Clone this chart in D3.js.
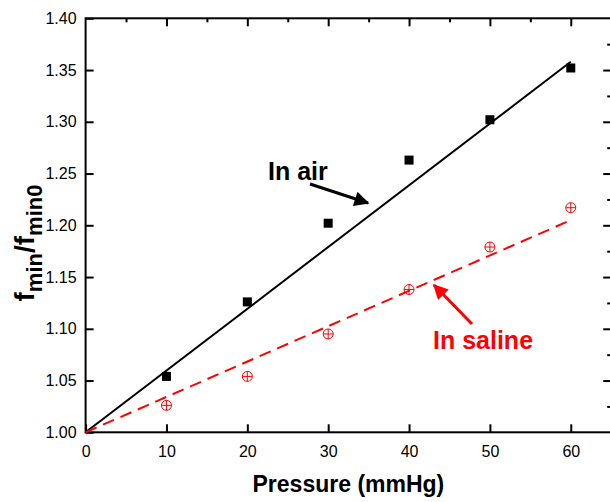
<!DOCTYPE html>
<html>
<head>
<meta charset="utf-8">
<script src="https://cdn.jsdelivr.net/npm/d3@7"></script>
<style>
  body { margin: 0; background: #fff; }
  svg { display: block; }
</style>
</head>
<body>
<div id="chart"></div>
<script>
// data
const pressure = [10, 20, 30, 40, 50, 60];
const inAir = [1.054, 1.126, 1.202, 1.263, 1.302, 1.352];
const inSaline = [1.026, 1.054, 1.095, 1.138, 1.179, 1.217];
const fitX = [0, 60];
const airFit = [1.0, 1.358];
const salineFit = [1.0, 1.205];
const xTicks = [0, 10, 20, 30, 40, 50, 60];
const yTicks = [1.00, 1.05, 1.10, 1.15, 1.20, 1.25, 1.30, 1.35, 1.40];

const W = 610, H = 502;
const margin = {top: 18.3, right: -1.2, bottom: 69.7, left: 85.6},
    width = W - margin.left - margin.right,
    height = H - margin.top - margin.bottom;

const svg = d3.select("#chart")
  .append("svg")
    .attr("width", W)
    .attr("height", H)
    .style("font-family", "Arial, 'Liberation Sans', sans-serif");

const g = svg.append("g")
    .attr("transform", `translate(${margin.left},${margin.top})`);

const x = d3.scaleLinear().domain([0, 65]).range([0, width]);
const y = d3.scaleLinear().domain([1.0, 1.4]).range([height, 0]);

// minor ticks on top / right
const xMinor = d3.range(5, 65, 5).filter(d => d % 10 !== 0);
const yMinor = d3.range(0, 16).map(i => 1.025 + i * 0.05).filter(d => d < 1.4);

function styleAxis(sel) {
  sel.selectAll(".domain").remove();
  sel.selectAll(".tick line").attr("stroke", "#000").attr("stroke-width", 2);
  sel.selectAll("text").style("font-size", "16px").attr("fill", "#000");
}

// bottom
g.append("g")
  .attr("transform", `translate(0,${height})`)
  .call(d3.axisBottom(x).tickValues(xTicks).tickSize(-8).tickPadding(13).tickFormat(d3.format("d")))
  .call(styleAxis);

// left
g.append("g")
  .call(d3.axisLeft(y).tickValues(yTicks).tickSize(-8).tickPadding(9).tickFormat(d3.format(".2f")))
  .call(styleAxis);

// top: majors + minors, no labels
g.append("g")
  .call(d3.axisTop(x).tickValues(xTicks.slice(1)).tickSize(-8).tickFormat(""))
  .call(styleAxis);
g.append("g")
  .call(d3.axisTop(x).tickValues(xMinor).tickSize(-4).tickFormat(""))
  .call(styleAxis);

// right
g.append("g")
  .attr("transform", `translate(${width},0)`)
  .call(d3.axisRight(y).tickValues(yTicks.slice(1, -1)).tickSize(-8).tickFormat(""))
  .call(styleAxis);
g.append("g")
  .attr("transform", `translate(${width},0)`)
  .call(d3.axisRight(y).tickValues(yMinor).tickSize(-4).tickFormat(""))
  .call(styleAxis);

// frame
g.append("rect")
  .attr("x", 0).attr("y", 0)
  .attr("width", width).attr("height", height)
  .attr("fill", "none")
  .attr("stroke", "#000")
  .attr("stroke-width", 2);

// fit lines
const line = d3.line().x(d => x(d[0])).y(d => y(d[1]));

g.append("path")
  .datum(fitX.map((d, i) => [d, airFit[i]]))
  .attr("d", line)
  .attr("fill", "none")
  .attr("stroke", "#000")
  .attr("stroke-width", 2);

g.append("path")
  .datum(fitX.map((d, i) => [d, salineFit[i]]))
  .attr("d", line)
  .attr("fill", "none")
  .attr("stroke", "#ff0000")
  .attr("stroke-width", 2)
  .attr("stroke-dasharray", "12,7");

// in air squares
const sq = 9;
g.selectAll(".air")
  .data(pressure)
  .join("rect")
    .attr("class", "air")
    .attr("x", (d, i) => x(d) - sq / 2)
    .attr("y", (d, i) => y(inAir[i]) - sq / 2)
    .attr("width", sq)
    .attr("height", sq)
    .attr("fill", "#000");

// in saline crossed circles
const r = 5;
const sal = g.selectAll(".sal")
  .data(pressure)
  .join("g")
    .attr("class", "sal")
    .attr("transform", (d, i) => `translate(${x(d)},${y(inSaline[i])})`);
sal.append("circle")
  .attr("r", r)
  .attr("fill", "none")
  .attr("stroke", "#ff0000")
  .attr("stroke-width", 1);
sal.append("path")
  .attr("d", `M${-r},0H${r}M0,${-r}V${r}`)
  .attr("stroke", "#ff0000")
  .attr("stroke-width", 1);

// annotations
const defs = svg.append("defs");
[["headBlack", "#000"], ["headRed", "#ff0000"]].forEach(([id, c]) => {
  defs.append("marker")
    .attr("id", id)
    .attr("viewBox", "0 0 10 10")
    .attr("refX", 9).attr("refY", 5)
    .attr("markerWidth", 6).attr("markerHeight", 5)
    .attr("markerUnits", "strokeWidth")
    .attr("orient", "auto")
    .append("path")
      .attr("d", "M0,0L10,5L0,10Z")
      .attr("fill", c);
});

svg.append("text")
  .attr("x", 268).attr("y", 180)
  .style("font-size", "25px").style("font-weight", "bold")
  .attr("fill", "#000")
  .text("In air");

svg.append("line")
  .attr("x1", 310).attr("y1", 184)
  .attr("x2", 368).attr("y2", 203)
  .attr("stroke", "#000").attr("stroke-width", 3)
  .attr("marker-end", "url(#headBlack)");

svg.append("text")
  .attr("x", 433).attr("y", 349)
  .style("font-size", "25px").style("font-weight", "bold")
  .attr("fill", "#ff0000")
  .text("In saline");

svg.append("line")
  .attr("x1", 472).attr("y1", 324)
  .attr("x2", 434).attr("y2", 285)
  .attr("stroke", "#ff0000").attr("stroke-width", 3)
  .attr("marker-end", "url(#headRed)");

// axis titles
svg.append("text")
  .attr("x", 85.6 + (611.2 - 85.6) / 2).attr("y", 492)
  .attr("text-anchor", "middle")
  .style("font-size", "23px").style("font-weight", "bold")
  .text("Pressure (mmHg)");

const yTitle = svg.append("text")
  .attr("transform", "translate(34,243) rotate(-90)")
  .attr("text-anchor", "middle")
  .style("font-size", "28px").style("font-weight", "bold");
yTitle.append("tspan").text("f");
yTitle.append("tspan").attr("dy", 8).style("font-size", "22px").text("min");
yTitle.append("tspan").attr("dy", -8).text("/f");
yTitle.append("tspan").attr("dy", 8).style("font-size", "22px").text("min0");
</script>
</body>
</html>
